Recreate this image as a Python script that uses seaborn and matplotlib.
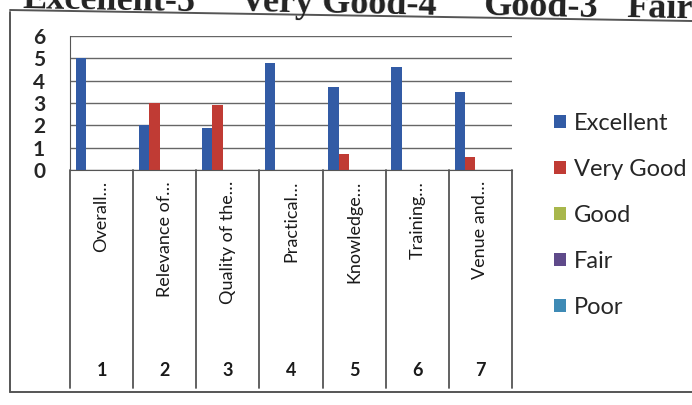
import pandas as pd
import matplotlib.pyplot as plt
import seaborn as sns
import matplotlib.transforms as mtransforms
from matplotlib.lines import Line2D

# chart data
items = ["Overall…", "Relevance of…", "Quality of the…", "Practical…",
         "Knowledge…", "Training…", "Venue and…"]
item_nums = ["1", "2", "3", "4", "5", "6", "7"]
ratings = ["Excellent", "Very Good", "Good", "Fair", "Poor"]
excellent = [5.0, 2.0, 1.9, 4.8, 3.7, 4.6, 3.5]
very_good = [0.0, 3.0, 2.9, 0.0, 0.7, 0.0, 0.6]
good = [0, 0, 0, 0, 0, 0, 0]
fair = [0, 0, 0, 0, 0, 0, 0]
poor = [0, 0, 0, 0, 0, 0, 0]
colors = ["#1f55b8", "#d8261c", "#b5c93a", "#5b3f95", "#2a8fc9"]
heading = ["Excellent-5", "Very Good-4", "Good-3", "Fair-2"]

df = pd.DataFrame({"item": items, "Excellent": excellent, "Very Good": very_good,
                   "Good": good, "Fair": fair, "Poor": poor})
long = df.melt(id_vars="item", var_name="rating", value_name="score")

sns.set_style("white")
plt.rcParams['font.family'] = ['Lato', 'DejaVu Sans']

fig = plt.figure(figsize=(6.92, 4.05), dpi=100)
ax = fig.add_axes([70 / 692, 1 - 170 / 405, 442 / 692, 134 / 405])

sns.barplot(data=long, x="item", y="score", hue="rating", hue_order=ratings,
            palette=colors, width=0.82, linewidth=0, ax=ax, legend=True)

ax.set_ylim(0, 6)
ax.set_yticks(range(0, 7))
ax.set_yticklabels([str(i) for i in range(0, 7)], fontsize=15, fontweight="bold")
ax.tick_params(axis="y", length=6, pad=12, color="#555555", width=1)
ax.yaxis.grid(True, color="#666666", linewidth=1.0)
ax.set_axisbelow(True)
for s in ["top", "right"]:
    ax.spines[s].set_visible(False)
ax.spines["left"].set_color("#555555")
ax.spines["bottom"].set_color("#555555")
ax.set_xlim(-0.5, len(items) - 0.5)
ax.set_xticks([])
ax.set_xlabel("")
ax.set_ylabel("")

# multi-level category axis below the plot
trans = mtransforms.blended_transform_factory(ax.transData, fig.transFigure)
y_top = 1 - 170 / 405
y_bot = 1 - 388 / 405
for i in range(len(items) + 1):
    ax.plot([i - 0.5, i - 0.5], [y_top, y_bot], transform=trans, color="#555555",
            linewidth=1.3, clip_on=False)
for i, (lab, num) in enumerate(zip(items, item_nums)):
    ax.text(i, 1 - 181 / 405, lab, transform=trans, rotation=90, ha="center",
            va="top", fontsize=13, color="#1a1a1a")
    ax.text(i, 1 - 370 / 405, num, transform=trans, ha="center", va="center",
            fontsize=13, fontweight="bold", color="#1a1a1a")

# legend
leg = ax.legend(loc="upper left", bbox_to_anchor=(554 / 692, 1 - 113 / 405),
                bbox_transform=fig.transFigure, frameon=False, fontsize=17,
                handlelength=0.5, handleheight=0.5, handletextpad=0.35,
                labelspacing=1.06, borderaxespad=0, borderpad=0)

# outer chart border (open on the right, as in the scan) and cropped heading
for xs, ys in [([10, 10], [12, 392]), ([10, 692], [392, 392]), ([10, 692], [10, 21])]:
    fig.add_artist(Line2D([x / 692 for x in xs], [1 - y / 405 for y in ys],
                          transform=fig.transFigure, color="#555555", linewidth=1.4))
for word, x0, y0 in zip(heading, [22, 240, 483, 626], [8, 11, 15, 17]):
    fig.text(x0 / 692, 1 - y0 / 405, word, fontsize=26, fontweight="bold",
             family="Liberation Serif", ha="left", va="baseline", color="#222222",
             rotation=-1.1, rotation_mode="anchor")

fig.savefig("out.png", dpi=100)
